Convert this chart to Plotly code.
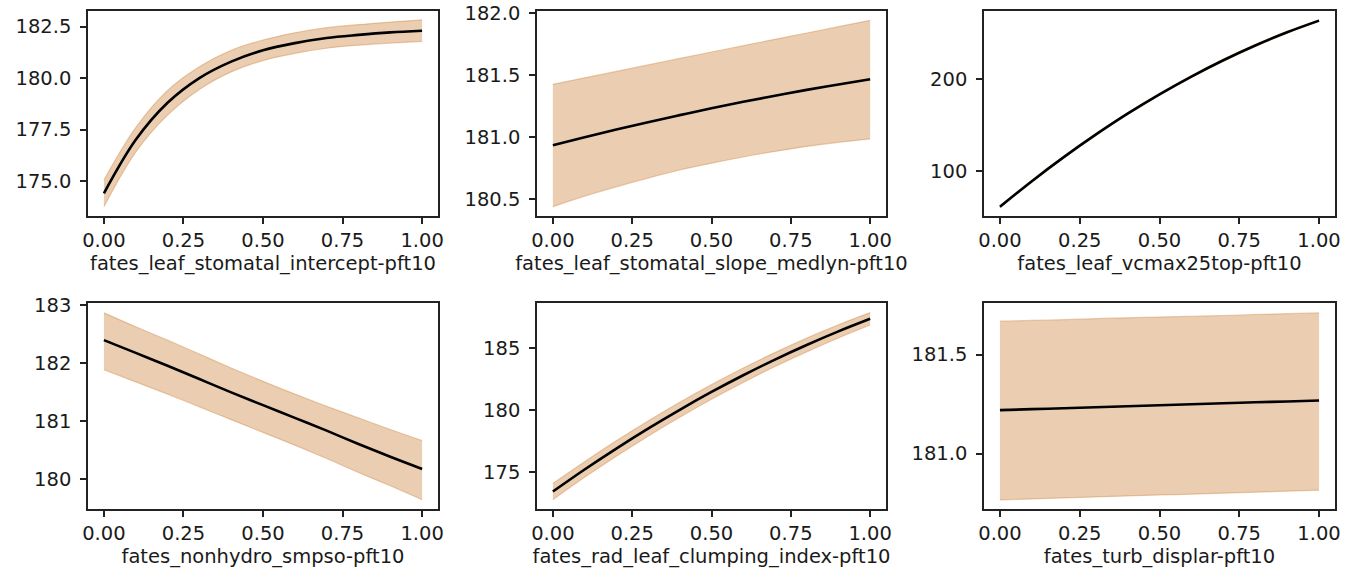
import plotly.graph_objects as go

x_vals = [0.0, 0.1, 0.2, 0.3, 0.4, 0.5, 0.6, 0.7, 0.8, 0.9, 1.0]

labels = [
    "fates_leaf_stomatal_intercept-pft10",
    "fates_leaf_stomatal_slope_medlyn-pft10",
    "fates_leaf_vcmax25top-pft10",
    "fates_nonhydro_smpso-pft10",
    "fates_rad_leaf_clumping_index-pft10",
    "fates_turb_displar-pft10",
]

mean_intercept = [174.4, 177.0, 178.8, 180.0, 180.8, 181.35, 181.7, 181.95, 182.1, 182.22, 182.3]
upper_intercept = [175.05, 177.6, 179.4, 180.55, 181.35, 181.85, 182.2, 182.45, 182.6, 182.72, 182.83]
lower_intercept = [173.75, 176.4, 178.2, 179.45, 180.3, 180.85, 181.2, 181.45, 181.6, 181.7, 181.78]

mean_slope = [180.935, 180.999, 181.061, 181.12, 181.177, 181.232, 181.284, 181.333, 181.38, 181.423, 181.465]
upper_slope = [181.425, 181.477, 181.529, 181.581, 181.633, 181.685, 181.736, 181.787, 181.838, 181.889, 181.94]
lower_slope = [180.44, 180.525, 180.60, 180.67, 180.735, 180.79, 180.84, 180.885, 180.925, 180.958, 180.985]

mean_vcmax = [61.0, 88.9, 115.1, 139.6, 162.5, 183.6, 203.0, 220.8, 236.9, 251.3, 264.0]
upper_vcmax = [62.0, 89.9, 116.1, 140.6, 163.5, 184.6, 204.0, 221.8, 237.9, 252.3, 265.0]
lower_vcmax = [60.0, 87.9, 114.1, 138.6, 161.5, 182.6, 202.0, 219.8, 235.9, 250.3, 263.0]

mean_smpso = [182.39, 182.17, 181.95, 181.72, 181.49, 181.27, 181.05, 180.83, 180.6, 180.38, 180.17]
upper_smpso = [182.86, 182.62, 182.39, 182.15, 181.91, 181.68, 181.46, 181.25, 181.05, 180.85, 180.66]
lower_smpso = [181.88, 181.67, 181.46, 181.24, 181.02, 180.80, 180.58, 180.35, 180.11, 179.88, 179.64]

mean_clump = [173.47, 175.24, 176.92, 178.52, 180.03, 181.46, 182.80, 184.06, 185.23, 186.32, 187.33]
upper_clump = [174.12, 175.87, 177.54, 179.13, 180.63, 182.05, 183.38, 184.62, 185.78, 186.85, 187.83]
lower_clump = [172.82, 174.61, 176.30, 177.91, 179.43, 180.87, 182.22, 183.50, 184.68, 185.79, 186.83]

mean_displar = [181.219, 181.224, 181.229, 181.234, 181.239, 181.244, 181.249, 181.254, 181.259, 181.263, 181.268]
upper_displar = [181.668, 181.672, 181.676, 181.681, 181.685, 181.689, 181.693, 181.697, 181.702, 181.706, 181.71]
lower_displar = [180.766, 180.771, 180.776, 180.781, 180.786, 180.791, 180.795, 180.800, 180.805, 180.810, 180.815]

series = [
    (mean_intercept, lower_intercept, upper_intercept, [173.30, 183.26], [175.0, 177.5, 180.0, 182.5], ["175.0", "177.5", "180.0", "182.5"]),
    (mean_slope, lower_slope, upper_slope, [180.365, 182.015], [180.5, 181.0, 181.5, 182.0], ["180.5", "181.0", "181.5", "182.0"]),
    (mean_vcmax, lower_vcmax, upper_vcmax, [50.9, 274.5], [100, 200], ["100", "200"]),
    (mean_smpso, lower_smpso, upper_smpso, [179.48, 183.03], [180, 181, 182, 183], ["180", "181", "182", "183"]),
    (mean_clump, lower_clump, upper_clump, [172.07, 188.6], [175, 180, 185], ["175", "180", "185"]),
    (mean_displar, lower_displar, upper_displar, [180.72, 181.76], [181.0, 181.5], ["181.0", "181.5"]),
]

x_ticks = [0.0, 0.25, 0.5, 0.75, 1.0]
x_ticktext = ["0.00", "0.25", "0.50", "0.75", "1.00"]

W, H = 1355, 571
x_dom_px = [(88, 438), (537, 886), (984, 1335)]
y_dom_px = [(11, 216), (303, 509)]

fill_col = "rgba(205,133,63,0.4)"
font = dict(family="DejaVu Sans", size=19.5, color="#1a1a1a")

fig = go.Figure()
layout = dict(
    width=W, height=H, margin=dict(l=0, r=0, t=0, b=0, autoexpand=False),
    paper_bgcolor="white", plot_bgcolor="white", showlegend=False, font=font,
)

for i, (m, lo, up, yr, yt, ytt) in enumerate(series):
    r, c = divmod(i, 3)
    n = "" if i == 0 else str(i + 1)
    xa, ya = "x" + n, "y" + n
    fig.add_trace(go.Scatter(x=x_vals, y=lo, mode="lines", line=dict(color=fill_col, width=1.2, shape="spline"),
                             xaxis=xa, yaxis=ya, hoverinfo="skip"))
    fig.add_trace(go.Scatter(x=x_vals, y=up, mode="lines", line=dict(color=fill_col, width=1.2, shape="spline"),
                             fill="tonexty", fillcolor=fill_col, xaxis=xa, yaxis=ya, hoverinfo="skip"))
    fig.add_trace(go.Scatter(x=x_vals, y=m, mode="lines", line=dict(color="black", width=2.6, shape="spline"),
                             xaxis=xa, yaxis=ya))
    x0, x1 = x_dom_px[c]
    y0, y1 = y_dom_px[r]
    axis_common = dict(showgrid=False, zeroline=False, showline=True, linecolor="#222222", linewidth=1.5,
                       mirror=True, ticks="outside", ticklen=6, tickwidth=1.5, tickcolor="#222222",
                       tickfont=font, automargin=False)
    layout["xaxis" + n] = dict(axis_common, domain=[x0 / W, x1 / W], range=[-0.05, 1.05],
                               tickvals=x_ticks, ticktext=x_ticktext, anchor=ya, ticklabelstandoff=0,
                               title=dict(text=labels[i], font=font, standoff=0))
    layout["yaxis" + n] = dict(axis_common, domain=[1 - y1 / H, 1 - y0 / H], range=yr,
                               tickvals=yt, ticktext=ytt, anchor=xa, ticklabelstandoff=5)

fig.update_layout(**layout)
fig.write_html("out.html")
